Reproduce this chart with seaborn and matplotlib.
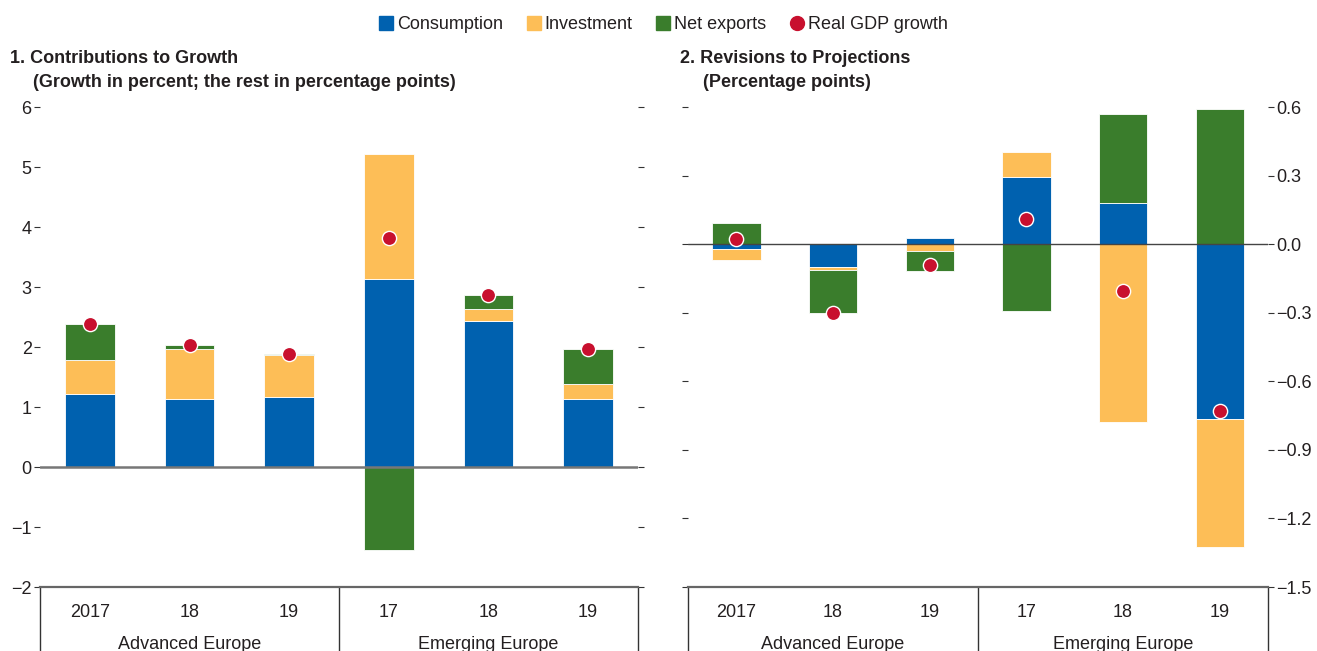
import matplotlib
matplotlib.use("Agg")
import matplotlib.pyplot as plt
from matplotlib import font_manager
from matplotlib.lines import Line2D
import numpy as np
import seaborn as sns

# values
positions = [0, 1, 2, 3, 4, 5]
year_labels = ["2017", "18", "19", "17", "18", "19"]
group_labels = ["Advanced Europe", "Emerging Europe"]

growth_consumption = [1.21, 1.13, 1.16, 3.14, 2.43, 1.13]
growth_investment = [0.58, 0.84, 0.70, 2.07, 0.20, 0.26]
growth_net_exports = [0.60, 0.06, 0.03, -1.38, 0.24, 0.57]
growth_gdp = [2.39, 2.03, 1.89, 3.82, 2.87, 1.96]

rev_consumption = [-0.022, -0.098, 0.026, 0.293, 0.181, -0.766]
rev_investment = [-0.049, -0.017, -0.031, 0.109, -0.776, -0.559]
rev_net_exports = [0.092, -0.185, -0.088, -0.294, 0.387, 0.590]
rev_gdp = [0.023, -0.300, -0.093, 0.109, -0.207, -0.732]

growth_ticks = [-2, -1, 0, 1, 2, 3, 4, 5, 6]
rev_ticks = [-1.5, -1.2, -0.9, -0.6, -0.3, 0.0, 0.3, 0.6]

BLUE = "#0061AF"
YELLOW = "#FDBE57"
GREEN = "#3A7D2C"
RED = "#C8102E"
INK = "#231F20"

sns.set_style("white")
names = {f.name for f in font_manager.fontManager.ttflist}
FONT = "Liberation Sans Narrow" if "Liberation Sans Narrow" in names else "Liberation Sans"
plt.rcParams["font.family"] = [FONT, "DejaVu Sans"]
plt.rcParams["text.color"] = INK
plt.rcParams["xtick.color"] = INK
plt.rcParams["ytick.color"] = INK


def stack_bottoms(series):
    """Bottoms for stacked bars, positives going up and negatives going down."""
    pos = np.zeros(len(positions))
    neg = np.zeros(len(positions))
    out = []
    for s in series:
        s = np.asarray(s, dtype=float)
        out.append(np.where(s >= 0, pos, neg))
        pos = pos + np.clip(s, 0, None)
        neg = neg + np.clip(s, None, 0)
    return out


def draw_panel(ax, parts, gdp, zero_color, zero_lw):
    bottoms = stack_bottoms([vals for vals, _ in parts])
    for (vals, color), bottom in zip(parts, bottoms):
        sns.barplot(x=positions, y=vals, bottom=bottom, color=color,
                    saturation=1, width=0.5, edgecolor="white", linewidth=0.6,
                    errorbar=None, ax=ax, zorder=2)
    ax.axhline(0, color=zero_color, lw=zero_lw, zorder=3)
    sns.scatterplot(x=positions, y=gdp, color=RED, s=105, edgecolor="white",
                    linewidth=1, zorder=5, ax=ax, legend=False)


def style_axes(ax, yticks, ticklabels, labels_right):
    ax.set_xlim(-0.5, 5.5)
    ax.set_ylim(yticks[0], yticks[-1])
    ax.set_yticks(yticks)
    ax.set_yticklabels(ticklabels)
    for side in ["top", "left", "right"]:
        ax.spines[side].set_visible(False)
    ax.spines["bottom"].set_color("#666666")
    ax.spines["bottom"].set_linewidth(1.6)
    ax.set_xticks(positions)
    ax.set_xticklabels(year_labels)
    ax.set_xticks(np.arange(-0.5, 6, 1), minor=True)
    ax.tick_params(axis="x", which="major", length=0, pad=12, labelsize=13)
    ax.tick_params(axis="x", which="minor", direction="in", length=6,
                   width=1, color="#333333")
    ax.tick_params(axis="y", direction="out", length=4, width=0.8,
                   left=True, right=True, labelleft=not labels_right,
                   labelright=labels_right, labelsize=13, color="#333333", pad=2)
    ax.set_xlabel("")
    ax.set_ylabel("")
    trans = ax.get_xaxis_transform()
    for x in (-0.5, 2.5, 5.5):
        ax.plot([x, x], [0, -0.14], transform=trans, color="#333333", lw=1,
                clip_on=False)
    for i, g in enumerate(group_labels):
        ax.text(1 + 3 * i, -0.119, g, transform=trans, ha="center",
                va="center", fontsize=13)


fig = plt.figure(figsize=(13.17, 6.51), dpi=100)
ax1 = fig.add_axes([40 / 1317, 64 / 651, 598 / 1317, 480 / 651])
ax2 = fig.add_axes([688 / 1317, 64 / 651, 580 / 1317, 480 / 651])

draw_panel(ax1, [(growth_consumption, BLUE), (growth_investment, YELLOW),
                 (growth_net_exports, GREEN)], growth_gdp, "#777777", 1.8)
style_axes(ax1, growth_ticks,
           [str(t).replace("-", "\u2212") for t in growth_ticks], False)

draw_panel(ax2, [(rev_consumption, BLUE), (rev_investment, YELLOW),
                 (rev_net_exports, GREEN)], rev_gdp, "#444444", 1.0)
style_axes(ax2, rev_ticks,
           [f"{t:.1f}".replace("-", "\u2212") for t in rev_ticks], True)

# titles
fig.text(10 / 1317, 1 - 50 / 651, "1. Contributions to Growth",
         fontsize=13, fontweight="bold", va="top")
fig.text(33 / 1317, 1 - 74 / 651,
         "(Growth in percent; the rest in percentage points)",
         fontsize=13, fontweight="bold", va="top")
fig.text(680 / 1317, 1 - 50 / 651, "2. Revisions to Projections",
         fontsize=13, fontweight="bold", va="top")
fig.text(703 / 1317, 1 - 74 / 651, "(Percentage points)",
         fontsize=13, fontweight="bold", va="top")

handles = [
    Line2D([], [], marker="s", ls="", markersize=10, color=BLUE, label="Consumption"),
    Line2D([], [], marker="s", ls="", markersize=10, color=YELLOW, label="Investment"),
    Line2D([], [], marker="s", ls="", markersize=10, color=GREEN, label="Net exports"),
    Line2D([], [], marker="o", ls="", markersize=10, color=RED, label="Real GDP growth"),
]
fig.legend(handles=handles, loc="upper center", bbox_to_anchor=(0.503, 1.0),
           ncol=4, frameon=False, fontsize=13, handletextpad=0.1,
           columnspacing=1.2, handlelength=1.0)

fig.savefig("out.png", dpi=100)
